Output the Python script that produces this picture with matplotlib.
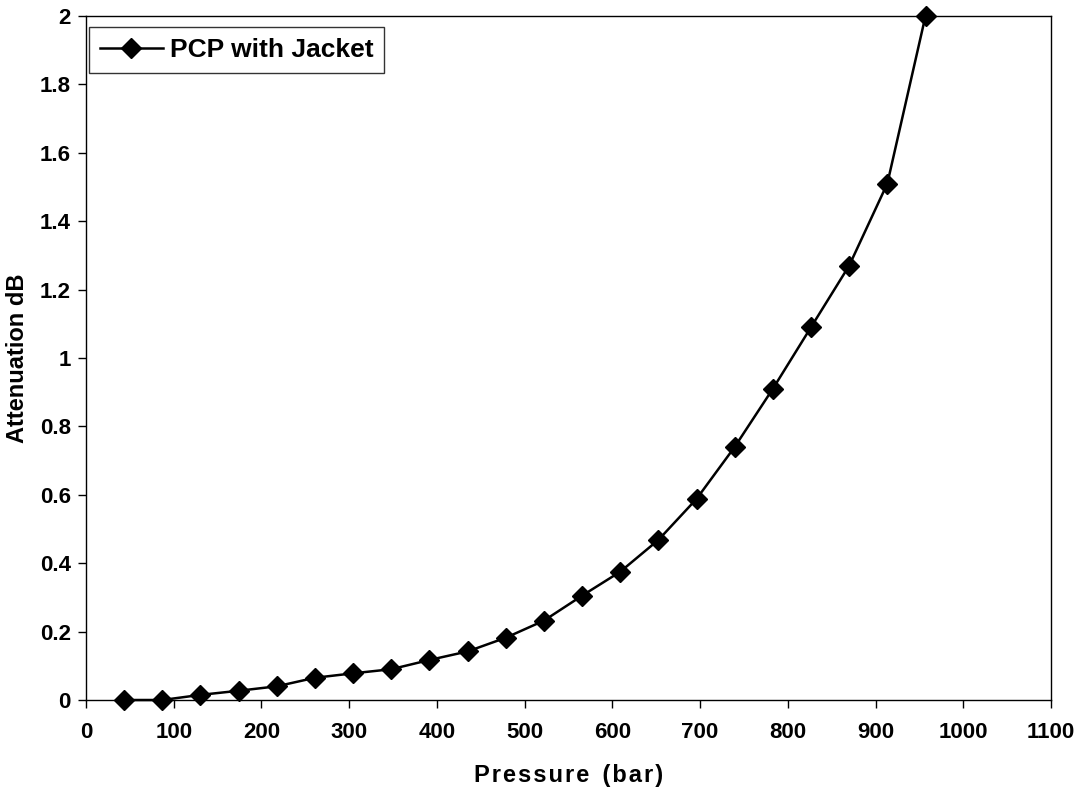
import matplotlib
matplotlib.use("Agg")
from matplotlib import pyplot as plt

# data
pressure = [43.5, 87, 130.5, 174, 217.5, 261, 304.5, 348, 391.5, 435, 478.5,
            522, 565.5, 609, 652.5, 696, 739.5, 783, 826.5, 870, 913.5, 957]
attenuation = [0.0, 0.0, 0.015, 0.027, 0.04, 0.065, 0.078, 0.09, 0.117, 0.142, 0.182,
               0.232, 0.305, 0.375, 0.468, 0.588, 0.74, 0.91, 1.09, 1.27, 1.51, 2.0]
x_ticks = [0, 100, 200, 300, 400, 500, 600, 700, 800, 900, 1000, 1100]
y_ticks = [0, 0.2, 0.4, 0.6, 0.8, 1, 1.2, 1.4, 1.6, 1.8, 2]
y_tick_labels = ["0", "0.2", "0.4", "0.6", "0.8", "1", "1.2", "1.4", "1.6", "1.8", "2"]

plt.rcParams["font.family"] = ["Liberation Sans", "DejaVu Sans"]

fig = plt.figure(figsize=(10.79, 7.89), dpi=100)
ax = fig.add_axes([0.0797, 0.1128, 0.8943, 0.867])

ax.plot(pressure, attenuation, color="black", lw=1.8, marker="D", ms=10,
        markerfacecolor="black", markeredgecolor="black", label="PCP with Jacket",
        clip_on=False, zorder=3)

ax.set_xlim(0, 1100)
ax.set_ylim(0, 2)
ax.set_xticks(x_ticks)
ax.set_yticks(y_ticks)
ax.set_yticklabels(y_tick_labels)
ax.tick_params(axis="x", direction="out", length=6, width=1, labelsize=16, pad=10)
ax.tick_params(axis="y", direction="out", length=6, width=1, labelsize=16, pad=5)
for lbl in ax.get_xticklabels() + ax.get_yticklabels():
    lbl.set_fontweight("bold")

# slight letter spacing like the original axis title
hair = "\u200a"
xlab = hair.join("Pressure") + "  " + hair.join("(bar)")
ax.set_xlabel(xlab, fontsize=17, fontweight="bold", labelpad=15)
ax.set_ylabel("Attenuation dB", fontsize=17, fontweight="bold", labelpad=8)

for s in ax.spines.values():
    s.set_linewidth(1)
    s.set_color("black")

leg = ax.legend(loc="upper left", bbox_to_anchor=(0.0, 0.988),
                prop={"weight": "bold", "size": 19}, frameon=True, fancybox=False,
                borderpad=0.42, handlelength=2.4, handletextpad=0.25, borderaxespad=0.1)
leg.get_frame().set_edgecolor("black")
leg.get_frame().set_linewidth(1)

fig.savefig("out.png", dpi=100)
